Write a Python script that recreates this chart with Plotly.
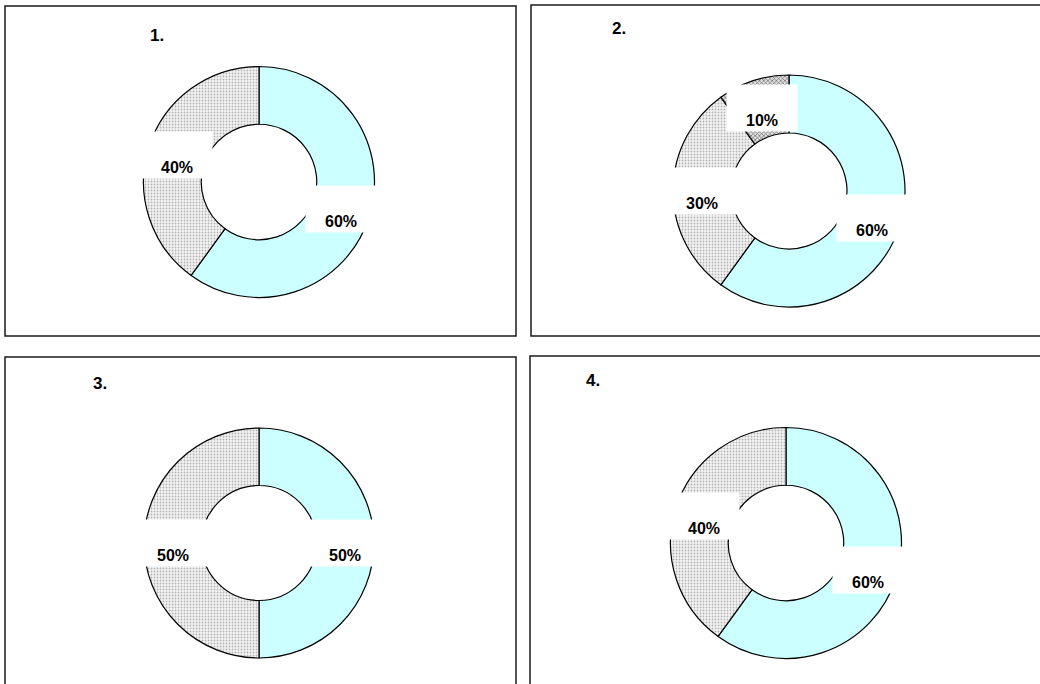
import math
import plotly.graph_objects as go

# ---- data ----
panel_titles = ["1.", "2.", "3.", "4."]
panel1_labels = ["A", "B"]
panel1_values = [60, 40]
panel2_labels = ["A", "B", "C"]
panel2_values = [60, 30, 10]
panel3_labels = ["A", "B"]
panel3_values = [50, 50]
panel4_labels = ["A", "B"]
panel4_values = [60, 40]

W, H = 1040, 684

def px(x):
    return x / W

def py(y):
    return 1 - y / H

CYAN = "#CCFFFF"
FONT = "Arial, Liberation Sans, sans-serif"

# layout geometry (pixels)
panels = [
    dict(labels=panel1_labels, values=panel1_values, cx=259, cy=182, r=115.5,
         title=panel_titles[0], tx=157, ty=36, box=(5, 6, 516, 336)),
    dict(labels=panel2_labels, values=panel2_values, cx=789, cy=191, r=116,
         title=panel_titles[1], tx=619, ty=28, box=(531, 5, 1060, 336)),
    dict(labels=panel3_labels, values=panel3_values, cx=259, cy=543, r=115,
         title=panel_titles[2], tx=100, ty=383, box=(5, 357, 516, 700)),
    dict(labels=panel4_labels, values=panel4_values, cx=786, cy=543, r=115.5,
         title=panel_titles[3], tx=593, ty=380, box=(530, 356, 1060, 700)),
]

HOLE = 0.5

def slice_styles(n):
    colors, shapes_, sizes, sols, fgs, bgs = [], [], [], [], [], []
    for i in range(n):
        if i == 0:
            colors.append(CYAN); shapes_.append(""); sizes.append(3)
            sols.append(0.3); fgs.append(CYAN); bgs.append(CYAN)
        elif i == 1:
            colors.append("#e6e6e6"); shapes_.append("."); sizes.append(3)
            sols.append(0.3); fgs.append("#b4b4b4"); bgs.append("#f4f4f4")
        else:
            colors.append("#cccccc"); shapes_.append("x"); sizes.append(3)
            sols.append(0.4); fgs.append("#666666"); bgs.append("#e0e0e0")
    return colors, dict(shape=shapes_, size=sizes, solidity=sols,
                        fgcolor=fgs, bgcolor=bgs, fillmode="replace")

fig = go.Figure()
shapes = []
annotations = []

for p in panels:
    cx, cy, r = p["cx"], p["cy"], p["r"]
    n = len(p["values"])
    colors, pattern = slice_styles(n)
    fig.add_trace(go.Pie(
        labels=p["labels"], values=p["values"],
        hole=HOLE, sort=False, direction="clockwise", rotation=0,
        textinfo="none", hoverinfo="label+percent",
        marker=dict(colors=colors, line=dict(color="black", width=1.2),
                    pattern=pattern),
        domain=dict(x=[px(cx - r), px(cx + r)], y=[py(cy + r), py(cy - r)]),
        showlegend=False,
    ))
    # panel frame
    x0, y0, x1, y1 = p["box"]
    shapes.append(dict(type="rect", xref="paper", yref="paper",
                       x0=px(x0), x1=px(x1), y0=py(y1), y1=py(y0),
                       line=dict(color="#1a1a1a", width=1.5), fillcolor="rgba(0,0,0,0)",
                       layer="below"))
    # title
    annotations.append(dict(text="<b>%s</b>" % p["title"], x=px(p["tx"]), y=py(p["ty"]),
                            xref="paper", yref="paper", showarrow=False,
                            xanchor="center", yanchor="middle",
                            font=dict(family=FONT, size=17, color="black")))
    # data labels
    total = sum(p["values"])
    cum = 0
    rmid = r * (1 + HOLE) / 2
    for v in p["values"]:
        mid = (cum + v / 2) / total * 2 * math.pi
        cum += v
        lx = cx + rmid * math.sin(mid)
        ly = cy - rmid * math.cos(mid)
        annotations.append(dict(text="<b>%d%%</b>" % round(100 * v / total),
                                x=px(lx), y=py(ly), xref="paper", yref="paper",
                                showarrow=False, xanchor="center", yanchor="middle",
                                width=66, height=42, borderpad=2, valign="bottom",
                                align="center", bgcolor="white",
                                font=dict(family=FONT, size=16, color="black")))

fig.update_layout(
    width=W, height=H,
    margin=dict(l=0, r=0, t=0, b=0),
    paper_bgcolor="white", plot_bgcolor="white",
    shapes=shapes, annotations=annotations,
    font=dict(family=FONT),
)

fig.write_html("out.html", config=dict(displayModeBar=False))
